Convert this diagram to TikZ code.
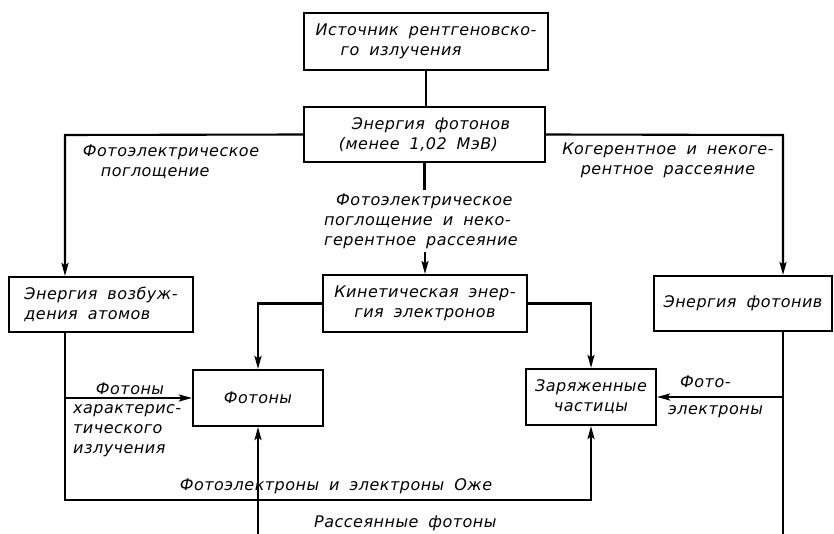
\documentclass[tikz,border=0pt]{standalone}
\usepackage{fontspec}
\setmainfont{DejaVu Sans}[LetterSpace=3,WordSpace=1.8]
\usetikzlibrary{arrows.meta}
\newcommand\gfont{\fontsize{16}{20}\selectfont\itshape}
\tikzset{
  box/.style={draw, line width=2.1pt, inner sep=0pt, font=\gfont},
  lbl/.style={font=\gfont, inner sep=0pt},
  conn/.style={line width=2.1pt},
  arr/.style={conn, -{Stealth[length=13pt,width=7pt,inset=2.5pt]}},
}
\begin{document}
\begin{tikzpicture}[x=1pt,y=-1pt]
\useasboundingbox (0,0) rectangle (834,534);
% boxes
\node[box, minimum width=244pt, minimum height=57pt, align=left] (src) at (426,41.5)
  {Источник рентгеновско-\\\hspace*{25pt}го излучения};
\node[box, minimum width=241pt, minimum height=55pt, align=left] (e1) at (424.5,134.5)
  {\hspace*{13pt}Энергия фотонов\\(менее 1,02 МэВ)};
\node[box, minimum width=184pt, minimum height=55pt, align=left] (exc) at (101,304.5)
  {Энергия возбуж-\\дения атомов};
\node[box, minimum width=204pt, minimum height=57pt, align=center] (kin) at (425,303.5)
  {Кинетическая энер-\\гия электронов};
\node[box, minimum width=178pt, minimum height=55pt, align=center] (ph2) at (743,303.5)
  {Энергия фотонив};
\node[box, minimum width=130pt, minimum height=56pt, align=center] (phot) at (258,398)
  {Фотоны};
\node[box, minimum width=130pt, minimum height=56pt, align=center] (chg) at (591,397)
  {Заряженные\\частицы};
% labels
\node[lbl, align=left] (lpe) at (171,162) {Фотоэлектрическое\\\hspace*{18pt}поглощение};
\node[lbl, align=center] (lcoh) at (668,160) {Когерентное и некоге-\\рентное рассеяние};
\node[lbl, align=left, inner sep=3pt] (lmid) at (421,221)
  {\hspace*{12pt}Фотоэлектрическое\\поглощение и неко-\\герентное рассеяние};
\node[lbl] (lfot) at (130,389) {Фотоны};
\node[lbl, align=left, anchor=west] (lchar) at (73,431) {характерис-\\тического\\излучения};
\node[lbl] (lauger) at (336,486) {Фотоэлектроны и электроны Оже};
\node[lbl, anchor=west] (lscat) at (314,523) {Рассеянные фотоны};
\node[lbl, align=left, anchor=west] (lpel) at (668,397) {\hspace*{12pt}Фото-\\[7pt]электроны};
% helper coordinates
\coordinate (cL) at (65,135);
\coordinate (cR) at (783,135);
\coordinate (bl) at (65,500);
\coordinate (bot) at (258,534);
\coordinate (botR) at (783,534);
% connectors
\draw[conn] (src.south) -- (src.south |- e1.north);
\draw[arr] (e1.west) -- (cL) -- (cL |- exc.north);
\draw[arr] (e1.east) -- (cR) -- (cR |- ph2.north);
\draw[conn] (e1.south) -- (e1.south |- lmid.north);
\draw[arr] (lmid.south -| kin.north) -- (kin.north);
\draw[arr] (kin.west) -| (phot.north);
\draw[arr] (kin.east) -| (chg.north);
\draw[arr] (cL |- exc.south) -- (bl) -| (chg.south);
\draw[arr] (cL |- phot.west) -- (phot.west);
\draw[arr] (bot) -- (phot.south);
\draw[conn] (cR |- ph2.south) -- (botR);
\draw[arr] (cR |- chg.east) -- (chg.east);
\end{tikzpicture}
\end{document}
